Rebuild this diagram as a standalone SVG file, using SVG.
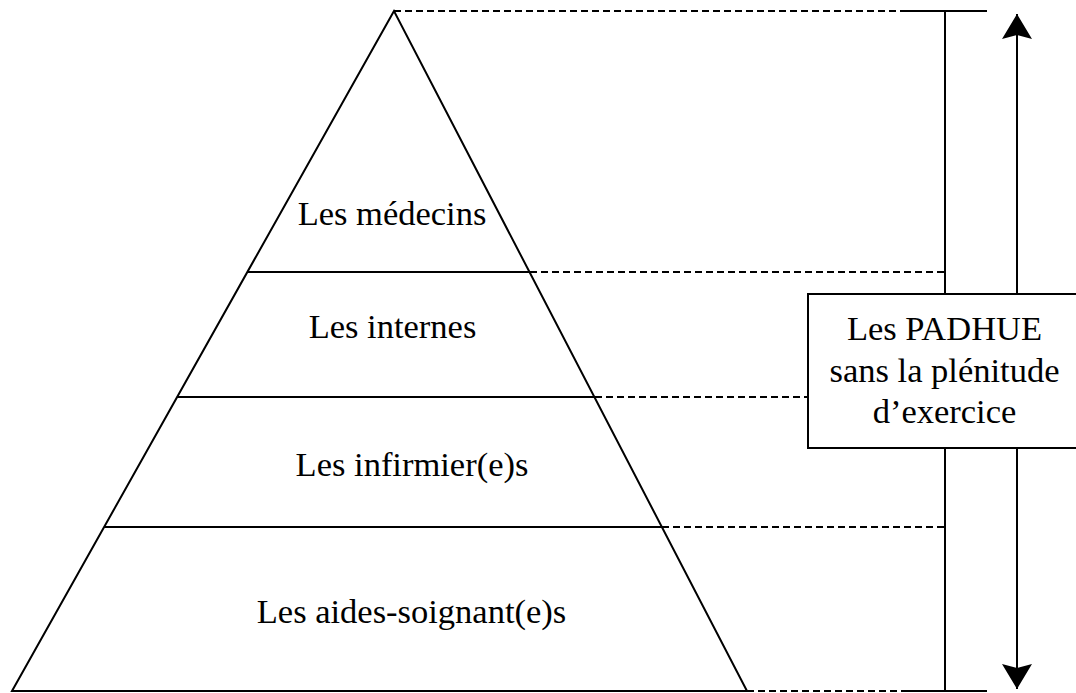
<svg xmlns="http://www.w3.org/2000/svg" width="1076" height="693" viewBox="0 0 1076 693">
  <defs>
    <style>
      .solid { stroke: #000; stroke-width: 2; fill: none; }
      .dash { stroke: #000; stroke-width: 2; fill: none; stroke-dasharray: 7 4; }
      .lbl { font-size: 34.5px; fill: #000; text-anchor: middle; }
    </style>
    <marker id="ah" markerUnits="userSpaceOnUse" markerWidth="30" markerHeight="30" viewBox="0 0 30 30" refX="26" refY="15" orient="auto-start-reverse">
      <path d="M1,0 L26,15 L1,30 L5,15 Z" fill="#000"/>
    </marker>
  </defs>
  <rect width="1076" height="693" fill="#fff"/>

  <g id="connectors">
    <line class="dash" x1="394" y1="11" x2="903" y2="11"/>
    <line class="solid" x1="903" y1="11" x2="987" y2="11"/>
    <line class="dash" x1="530" y1="272" x2="945" y2="272"/>
    <line class="dash" x1="595" y1="397" x2="808" y2="397"/>
    <line class="dash" x1="662" y1="527" x2="945" y2="527"/>
    <line class="dash" x1="747" y1="691" x2="903" y2="691"/>
    <line class="solid" x1="903" y1="691" x2="987" y2="691"/>
    <line class="solid" x1="945" y1="11" x2="945" y2="691"/>
    <line class="solid" x1="1017" y1="14" x2="1017" y2="689" marker-start="url(#ah)" marker-end="url(#ah)"/>
  </g>

  <g id="pyramid">
    <polygon class="solid" points="394,11 12,691 747,691" fill="#fff"/>
  </g>

  <g font-family="'Liberation Serif', 'DejaVu Serif', serif">
    <g id="medecins">
      <text class="lbl" x="392" y="225">Les médecins</text>
    </g>
    <g id="internes">
      <line class="solid" x1="247.4" y1="272" x2="529.5" y2="272"/>
      <text class="lbl" x="392.5" y="338">Les internes</text>
    </g>
    <g id="infirmiers">
      <line class="solid" x1="177.2" y1="397" x2="594.4" y2="397"/>
      <text class="lbl" x="412" y="476">Les infirmier(e)s</text>
    </g>
    <g id="aides-soignants">
      <line class="solid" x1="104.1" y1="527" x2="661.9" y2="527"/>
      <text class="lbl" x="411.5" y="623">Les aides-soignant(e)s</text>
    </g>
    <g id="padhue">
      <rect x="808" y="294" width="273" height="154" fill="#fff" stroke="#000" stroke-width="2"/>
      <text class="lbl" x="944.5" y="340">Les PADHUE</text>
      <text class="lbl" x="944.5" y="381.5">sans la plénitude</text>
      <text class="lbl" x="944.5" y="423">d’exercice</text>
    </g>
  </g>
</svg>
